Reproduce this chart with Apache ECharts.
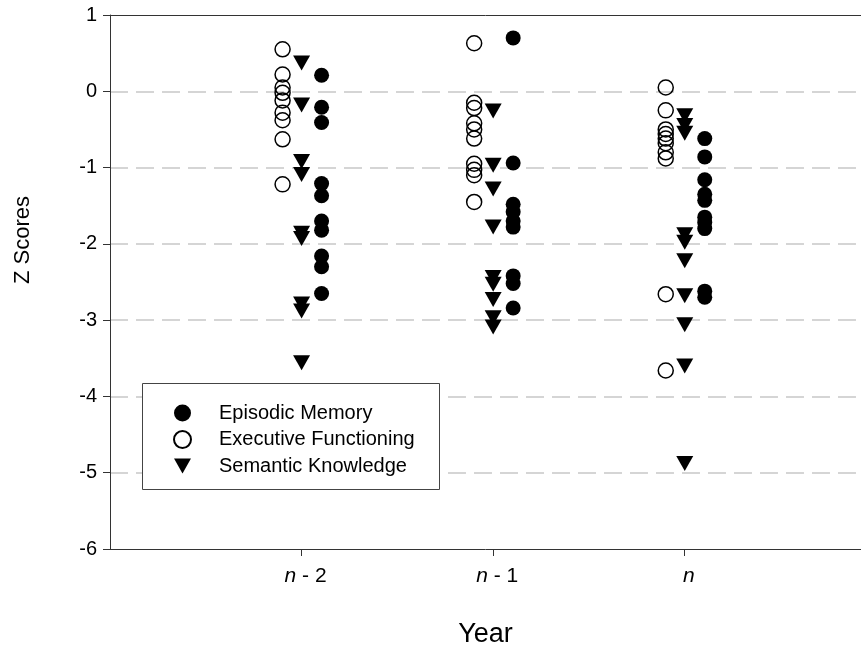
<!DOCTYPE html>
<html>
<head>
<meta charset="utf-8">
<script src="https://cdn.jsdelivr.net/npm/echarts@6/dist/echarts.min.js"></script>
<style>
html,body{margin:0;padding:0;background:#fff;}
#chart{width:861px;height:657px;}
</style>
</head>
<body>
<div id="chart"></div>
<script>
// Categories (x positions 1,2,3)
const categories = ['n - 2', 'n - 1', 'n'];
const yTicks = [-6, -5, -4, -3, -2, -1, 0, 1];

// Episodic Memory (filled circles), one list per year
const episodicN2 = [0.21, -0.21, -0.41, -1.21, -1.37, -1.7, -1.82, -2.16, -2.3, -2.65];
const episodicN1 = [0.7, -0.94, -1.48, -1.58, -1.7, -1.78, -2.42, -2.52, -2.84];
const episodicN  = [-0.62, -0.86, -1.16, -1.35, -1.43, -1.65, -1.72, -1.8, -2.62, -2.7];

// Executive Functioning (open circles)
const executiveN2 = [0.55, 0.22, 0.05, -0.02, -0.12, -0.28, -0.38, -0.63, -1.22];
const executiveN1 = [0.63, -0.15, -0.22, -0.42, -0.5, -0.62, -0.95, -1.03, -1.1, -1.45];
const executiveN  = [0.05, -0.25, -0.5, -0.56, -0.62, -0.68, -0.8, -0.88, -2.66, -3.66];

// Semantic Knowledge (down triangles)
const semanticN2 = [0.37, -0.18, -0.92, -1.09, -1.86, -1.93, -2.79, -2.88, -3.56];
const semanticN1 = [-0.26, -0.97, -1.28, -1.78, -2.44, -2.53, -2.73, -2.97, -3.09];
const semanticN  = [-0.32, -0.45, -0.55, -1.88, -1.98, -2.22, -2.68, -3.06, -3.6, -4.88];

function toPoints(groups) {
  const out = [];
  groups.forEach(function (vals, i) {
    vals.forEach(function (v) { out.push([i + 1, v]); });
  });
  return out;
}

const chart = echarts.init(document.getElementById('chart'), null, {renderer: 'canvas'});
const FONT = 'Liberation Sans, Arial, sans-serif';
const X_MAX = 3.92;
const DOWN_TRI = 'path://M0,0L17,0L8.5,15Z';

chart.setOption({
  animation: false,
  backgroundColor: '#fff',
  textStyle: {fontFamily: FONT},
  grid: {left: 110, top: 15, right: 0, bottom: 108, show: false},
  graphic: [{
    type: 'rect',
    shape: {x: 142.5, y: 383.5, width: 297, height: 106},
    style: {fill: '#fff', stroke: '#444', lineWidth: 1},
    z: 10
  }],
  legend: {
    orient: 'vertical',
    left: 173,
    top: 403,
    padding: 0,
    itemWidth: 17,
    itemHeight: 17,
    itemGap: 6.5,
    z: 20,
    textStyle: {fontFamily: FONT, fontSize: 20, color: '#000', padding: [0, 0, 0, 23]},
    data: [
      {name: 'Episodic Memory'},
      {name: 'Executive Functioning'},
      {name: 'Semantic Knowledge', icon: DOWN_TRI}
    ]
  },
  xAxis: [{
    type: 'value',
    min: 0,
    max: X_MAX,
    interval: 1,
    name: 'Year',
    nameLocation: 'middle',
    nameGap: 72,
    nameTextStyle: {fontFamily: FONT, fontSize: 27, color: '#000'},
    axisLine: {show: true, onZero: false, lineStyle: {color: '#333', width: 1}},
    axisTick: {show: true, length: 7, inside: false, customValues: [1, 2, 3], lineStyle: {color: '#333'}},
    axisLabel: {
      show: true,
      margin: 17,
      customValues: [1, 2, 3],
      padding: [0, 0, 0, 8],
      formatter: function (v) {
        const c = categories[v - 1];
        if (!c) return '';
        const parts = c.split(' ');
        return '{i|n}' + (parts.length > 1 ? ' ' + parts.slice(1).join(' ') : '');
      },
      fontFamily: FONT, fontSize: 21, color: '#000',
      rich: {i: {fontStyle: 'italic', fontFamily: FONT, fontSize: 21, color: '#000'}}
    },
    splitLine: {show: false}
  }, {
    type: 'value',
    position: 'top',
    min: 0,
    max: X_MAX,
    interval: 1,
    axisLine: {show: true, onZero: false, lineStyle: {color: '#333', width: 1}},
    axisTick: {show: false},
    axisLabel: {show: false},
    splitLine: {show: false}
  }],
  yAxis: {
    type: 'value',
    min: -6,
    max: 1,
    interval: 1,
    name: 'Z Scores',
    nameLocation: 'middle',
    nameGap: 76,
    nameTextStyle: {fontFamily: FONT, fontSize: 22, color: '#000', padding: [0, 0, 0, 84]},
    axisLine: {show: true, onZero: false, lineStyle: {color: '#333', width: 1}},
    axisTick: {show: true, length: 7, lineStyle: {color: '#333'}},
    axisLabel: {margin: 13, fontFamily: FONT, fontSize: 20, color: '#000',
      formatter: function (v) { return yTicks.indexOf(v) >= 0 ? String(v) : ''; }},
    splitLine: {show: true, showMinLine: false, showMaxLine: false,
      lineStyle: {color: '#c8c8c8', width: 1.5, type: [18, 8]}}
  },
  series: [
    {
      name: 'Episodic Memory',
      type: 'scatter',
      symbol: 'circle',
      symbolSize: 15,
      symbolOffset: [20, 0],
      itemStyle: {color: '#000', opacity: 1},
      data: toPoints([episodicN2, episodicN1, episodicN])
    },
    {
      name: 'Executive Functioning',
      type: 'scatter',
      symbol: 'circle',
      symbolSize: 15,
      symbolOffset: [-19, 0],
      itemStyle: {color: 'rgba(255,255,255,0)', borderColor: '#000', borderWidth: 1.5, opacity: 1},
      data: toPoints([executiveN2, executiveN1, executiveN])
    },
    {
      name: 'Semantic Knowledge',
      type: 'scatter',
      symbol: DOWN_TRI,
      symbolSize: [17, 15],
      itemStyle: {color: '#000', opacity: 1},
      data: toPoints([semanticN2, semanticN1, semanticN])
    }
  ]
});
</script>
</body>
</html>
